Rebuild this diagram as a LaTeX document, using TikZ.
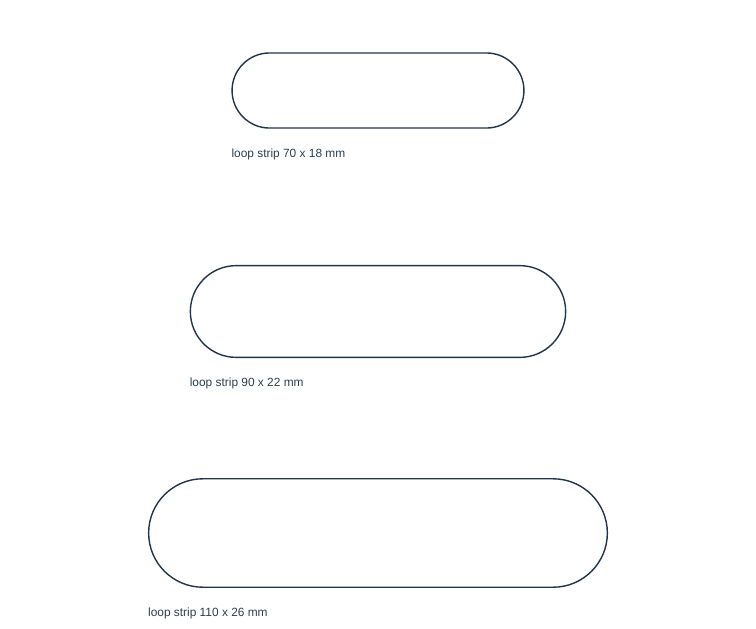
\documentclass[tikz,border=0pt]{standalone}
\usepackage{fontspec}
\setmainfont{Liberation Sans}
\usepackage{tikz}
\usepackage{xcolor}
\usetikzlibrary{positioning}
\definecolor{stripline}{HTML}{22344A}
\definecolor{striptext}{HTML}{2C3E50}
\tikzset{
    strip/.style={draw=stripline, line width=1.4pt, inner sep=0pt},
    striplabel/.style={anchor=west, inner sep=0pt, text=striptext, font=\fontsize{11.9}{14}\selectfont},
}

\begin{document}
\begin{tikzpicture}[x=1pt, y=-1pt]
    \useasboundingbox (0,0) rectangle (756,629);
    %% width / height in mm, centre y in px
    \foreach \w/\h/\cy/\n in {70/18/90.5/a, 90/22/311.5/b, 110/26/533/c}{
        \node[strip, minimum width={\w*4.17pt}, minimum height={\h*4.17pt},
              rounded corners={\h*2.085pt}] (strip\n) at (378,\cy) {};
        \node[striplabel] (label\n) at ([yshift=-25.5pt]strip\n.south west) {loop strip \w\ x \h\ mm};
    }
\end{tikzpicture}
\end{document}
